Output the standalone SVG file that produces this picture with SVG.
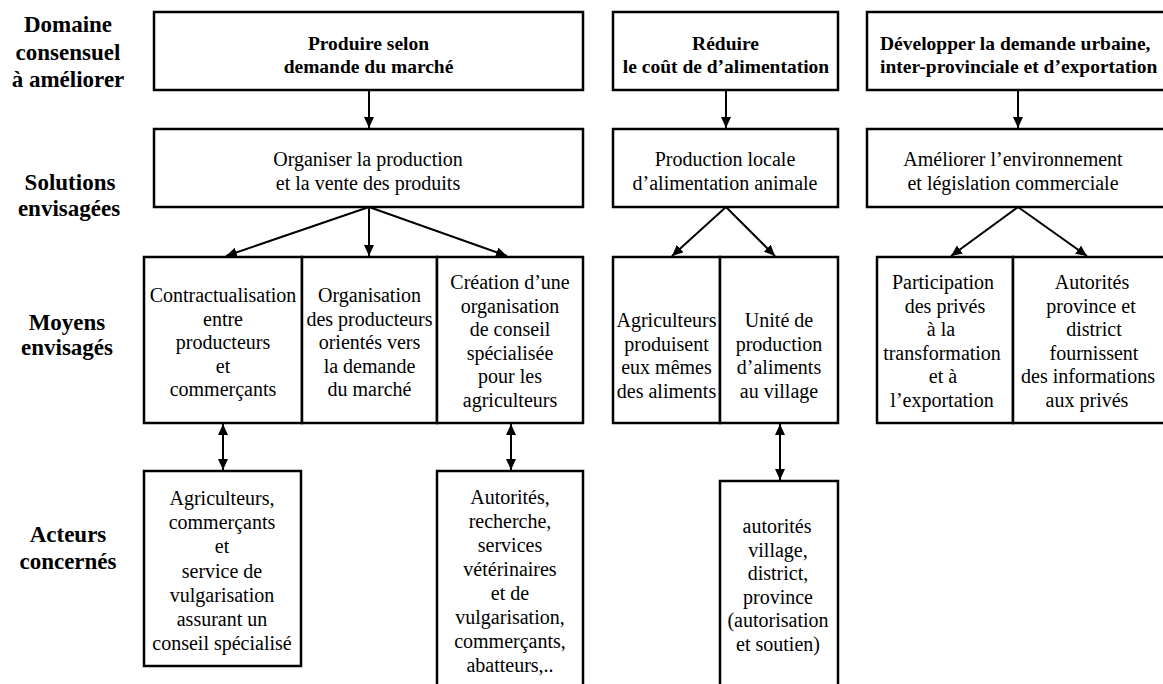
<svg xmlns="http://www.w3.org/2000/svg" width="1163" height="684" viewBox="0 0 1163 684">
<style>
.box{fill:#fff;stroke:#000;stroke-width:2.5}
.t{font-family:"Liberation Serif","Times New Roman",serif;font-size:20px;text-anchor:middle;fill:#000}
.b{font-weight:bold;font-size:19.5px}
.s{text-anchor:start}
.lbl{font-family:"Liberation Serif","Times New Roman",serif;font-size:23px;font-weight:bold;text-anchor:middle;fill:#000}
.c{stroke:#000;stroke-width:2;fill:none}
.a{marker-end:url(#ah)}
.d{marker-start:url(#ah);marker-end:url(#ah)}
</style>
<defs>
<marker id="ah" markerUnits="userSpaceOnUse" markerWidth="11" markerHeight="10" refX="11" refY="5" orient="auto-start-reverse">
<path d="M0,0 L11,5 L0,10 z" fill="#000"/>
</marker>
</defs>
<rect width="1163" height="684" fill="#fff"/>

<g id="labels">
<text class="lbl" x="68" y="32">Domaine</text>
<text class="lbl" x="68" y="60">consensuel</text>
<text class="lbl" x="68" y="87">à améliorer</text>
<text class="lbl" x="70" y="190">Solutions</text>
<text class="lbl" x="69" y="216">envisagées</text>
<text class="lbl" x="67" y="330">Moyens</text>
<text class="lbl" x="67" y="355">envisagés</text>
<text class="lbl" x="68" y="542">Acteurs</text>
<text class="lbl" x="68" y="569">concernés</text>
</g>

<g id="connectors">
<line class="c a" x1="369" y1="90" x2="369" y2="128"/>
<line class="c a" x1="726" y1="90" x2="726" y2="128"/>
<line class="c a" x1="1018" y1="90" x2="1018" y2="128"/>
<line class="c a" x1="369" y1="207" x2="226" y2="256"/>
<line class="c a" x1="369" y1="207" x2="369" y2="256"/>
<line class="c a" x1="369" y1="207" x2="507" y2="256"/>
<line class="c a" x1="726" y1="207" x2="672" y2="256"/>
<line class="c a" x1="726" y1="207" x2="775" y2="256"/>
<line class="c a" x1="1018" y1="207" x2="951" y2="256"/>
<line class="c a" x1="1018" y1="207" x2="1087" y2="256"/>
<line class="c d" x1="223" y1="424" x2="223" y2="470"/>
<line class="c d" x1="511" y1="424" x2="511" y2="470"/>
<line class="c d" x1="780" y1="424" x2="780" y2="480"/>
</g>

<g id="n-produire">
<rect class="box" x="154" y="12" width="429" height="78"/>
<text class="t b" x="368.5" y="50">Produire selon</text>
<text class="t b" x="368.5" y="73">demande du marché</text>
</g>
<g id="n-reduire">
<rect class="box" x="613" y="12" width="225" height="78"/>
<text class="t b" x="725.5" y="50">Réduire</text>
<text class="t b" x="726" y="73">le coût de d’alimentation</text>
</g>
<g id="n-developper">
<rect class="box" x="867" y="12" width="302" height="78"/>
<text class="t b s" x="880" y="50">Développer la demande urbaine,</text>
<text class="t b s" x="880" y="73">inter-provinciale et d’exportation</text>
</g>

<g id="n-organiser">
<rect class="box" x="154" y="129" width="429" height="78"/>
<text class="t" x="368" y="166">Organiser la production</text>
<text class="t" x="368" y="190">et la vente des produits</text>
</g>
<g id="n-production">
<rect class="box" x="613" y="129" width="225" height="78"/>
<text class="t" x="725" y="166">Production locale</text>
<text class="t" x="725" y="190">d’alimentation animale</text>
</g>
<g id="n-ameliorer">
<rect class="box" x="867" y="129" width="302" height="78"/>
<text class="t" x="1013" y="166">Améliorer l’environnement</text>
<text class="t" x="1013" y="190">et législation commerciale</text>
</g>

<g id="n-contract">
<rect class="box" x="144" y="257" width="158" height="166"/>
<text class="t" x="223" y="302">Contractualisation</text>
<text class="t" x="223" y="325.5">entre</text>
<text class="t" x="223" y="349">producteurs</text>
<text class="t" x="223" y="372.5">et</text>
<text class="t" x="223" y="396">commerçants</text>
</g>
<g id="n-orgprod">
<rect class="box" x="302" y="257" width="135" height="166"/>
<text class="t" x="369.5" y="302">Organisation</text>
<text class="t" x="369.5" y="325.5">des producteurs</text>
<text class="t" x="369.5" y="349">orientés vers</text>
<text class="t" x="369.5" y="372.5">la demande</text>
<text class="t" x="369.5" y="396">du marché</text>
</g>
<g id="n-creation">
<rect class="box" x="437" y="257" width="146" height="166"/>
<text class="t" x="510" y="289">Création d’une</text>
<text class="t" x="510" y="312.5">organisation</text>
<text class="t" x="510" y="336">de conseil</text>
<text class="t" x="510" y="359.5">spécialisée</text>
<text class="t" x="510" y="383">pour les</text>
<text class="t" x="510" y="406.5">agriculteurs</text>
</g>
<g id="n-agri">
<rect class="box" x="613" y="257" width="107" height="166"/>
<text class="t" x="666.5" y="327">Agriculteurs</text>
<text class="t" x="666.5" y="350.5">produisent</text>
<text class="t" x="666.5" y="374">eux mêmes</text>
<text class="t" x="666.5" y="397.5">des aliments</text>
</g>
<g id="n-unite">
<rect class="box" x="720" y="257" width="118" height="166"/>
<text class="t" x="779" y="327">Unité de</text>
<text class="t" x="779" y="350.5">production</text>
<text class="t" x="779" y="374">d’aliments</text>
<text class="t" x="779" y="397.5">au village</text>
</g>
<g id="n-particip">
<rect class="box" x="877" y="257" width="136" height="166"/>
<text class="t" x="943" y="289">Participation</text>
<text class="t" x="945" y="312.5">des privés</text>
<text class="t" x="941" y="336">à la</text>
<text class="t" x="942" y="359.5">transformation</text>
<text class="t" x="943" y="383">et à</text>
<text class="t" x="942" y="406.5">l’exportation</text>
</g>
<g id="n-autorites">
<rect class="box" x="1013" y="257" width="156" height="166"/>
<text class="t" x="1092" y="289">Autorités</text>
<text class="t" x="1091" y="312.5">province et</text>
<text class="t" x="1094" y="336">district</text>
<text class="t" x="1094" y="359.5">fournissent</text>
<text class="t" x="1088" y="383">des informations</text>
<text class="t" x="1087" y="406.5">aux privés</text>
</g>

<g id="n-acteurs1">
<rect class="box" x="144" y="471" width="157" height="195"/>
<text class="t" x="222" y="505">Agriculteurs,</text>
<text class="t" x="222" y="529">commerçants</text>
<text class="t" x="222" y="553">et</text>
<text class="t" x="222" y="577.5">service de</text>
<text class="t" x="222" y="602">vulgarisation</text>
<text class="t" x="222" y="626">assurant un</text>
<text class="t" x="222" y="650">conseil spécialisé</text>
</g>
<g id="n-acteurs2">
<rect class="box" x="437" y="471" width="146" height="240"/>
<text class="t" x="510" y="504">Autorités,</text>
<text class="t" x="510" y="528">recherche,</text>
<text class="t" x="510" y="552">services</text>
<text class="t" x="510" y="576">vétérinaires</text>
<text class="t" x="510" y="600">et de</text>
<text class="t" x="510" y="624">vulgarisation,</text>
<text class="t" x="510" y="648">commerçants,</text>
<text class="t" x="510" y="672">abatteurs,..</text>
</g>
<g id="n-acteurs3">
<rect class="box" x="720" y="481" width="118" height="240"/>
<text class="t" x="777" y="533">autorités</text>
<text class="t" x="778" y="556.6">village,</text>
<text class="t" x="778" y="580.2">district,</text>
<text class="t" x="778" y="603.8">province</text>
<text class="t" x="778" y="627.4">(autorisation</text>
<text class="t" x="778" y="651">et soutien)</text>
</g>
</svg>
